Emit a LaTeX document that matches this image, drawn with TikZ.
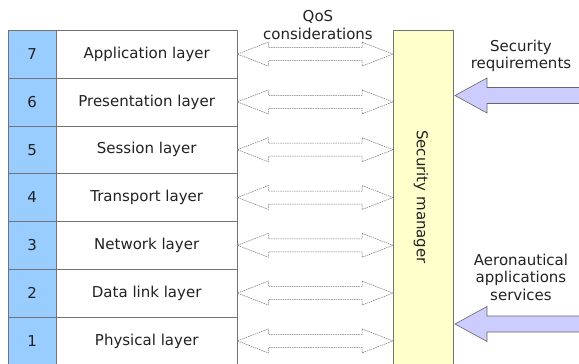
\documentclass[tikz,border=0pt]{standalone}
\usepackage{fontspec}
\setmainfont{DejaVu Sans}
\usepackage{xcolor}
\usetikzlibrary{calc}
\definecolor{numblue}{HTML}{99CCFF}
\definecolor{mgryellow}{HTML}{FFFFCC}
\definecolor{reqlilac}{HTML}{CCCCFF}
\definecolor{inktext}{HTML}{222222}

\tikzset{
  numbox/.style={draw=gray!90!black, fill=numblue, minimum width=48pt, minimum height=47.8pt, anchor=north west, inner sep=0pt},
  layerbox/.style={draw=gray!90!black, fill=white, minimum width=181pt, minimum height=47.8pt, anchor=north west, inner sep=0pt},
  qosarrow/.style={draw=gray!90!black, dash pattern=on 1.5pt off 0.8pt, line width=0.5pt, fill=white},
  inarrow/.style={draw=gray!80!black, fill=reqlilac, line width=0.6pt},
  sidetext/.style={align=center, font=\fontsize{15}{17.5}\selectfont}
}

\begin{document}
\begin{tikzpicture}[x=1pt, y=-1pt, font=\fontsize{15}{17}\selectfont, text=inktext]
    \useasboundingbox (0,0) rectangle (579,364);

    % OSI layers
    \foreach \n/\lname [count=\i] in {7/Application layer, 6/Presentation layer, 5/Session layer, 4/Transport layer, 3/Network layer, 2/Data link layer, 1/Physical layer} {
        \node[numbox] (N\n) at (8, {30+47.8*(\i-1)}) {\n};
        \node[layerbox] (L\n) at (56, {30+47.8*(\i-1)}) {\lname};
    }

    % Security manager
    \node[draw=gray!90!black, fill=mgryellow, minimum width=60pt, minimum height=345pt, anchor=north west, inner sep=0pt] (mgr) at (393,30) {};
    \node[rotate=-90] (mgrlabel) at (421,197) {Security manager};

    % QoS arrows
    \foreach \n in {1,...,7} {
        \draw[qosarrow] (L\n.east) -- ++(31,-12) -- ++(0,5.5)
            -- ($(mgr.west |- L\n.east)+(-31,-6.5)$) -- ++(0,-5.5)
            -- (mgr.west |- L\n.east) -- ++(-31,12) -- ++(0,-5.5)
            -- ($(L\n.east)+(31,6.5)$) -- ++(0,5.5) -- cycle;
    }
    \node[sidetext] (qos) at (318,25) {QoS\\considerations};

    % Incoming arrows
    \coordinate (reqtip) at (455,95.5);
    \coordinate (apptip) at (455,324);
    \foreach \t in {reqtip, apptip} {
        \draw[inarrow] (\t) -- ++(32,-17.5) -- ++(0,9.5) -- ++(100,0) -- ++(0,16) -- ++(-100,0) -- ++(0,9.5) -- cycle;
    }
    \node[sidetext] (secreq) at (521,56) {Security\\requirements};
    \node[sidetext] (aeroapp) at (521,277) {Aeronautical\\applications\\services};
\end{tikzpicture}
\end{document}
